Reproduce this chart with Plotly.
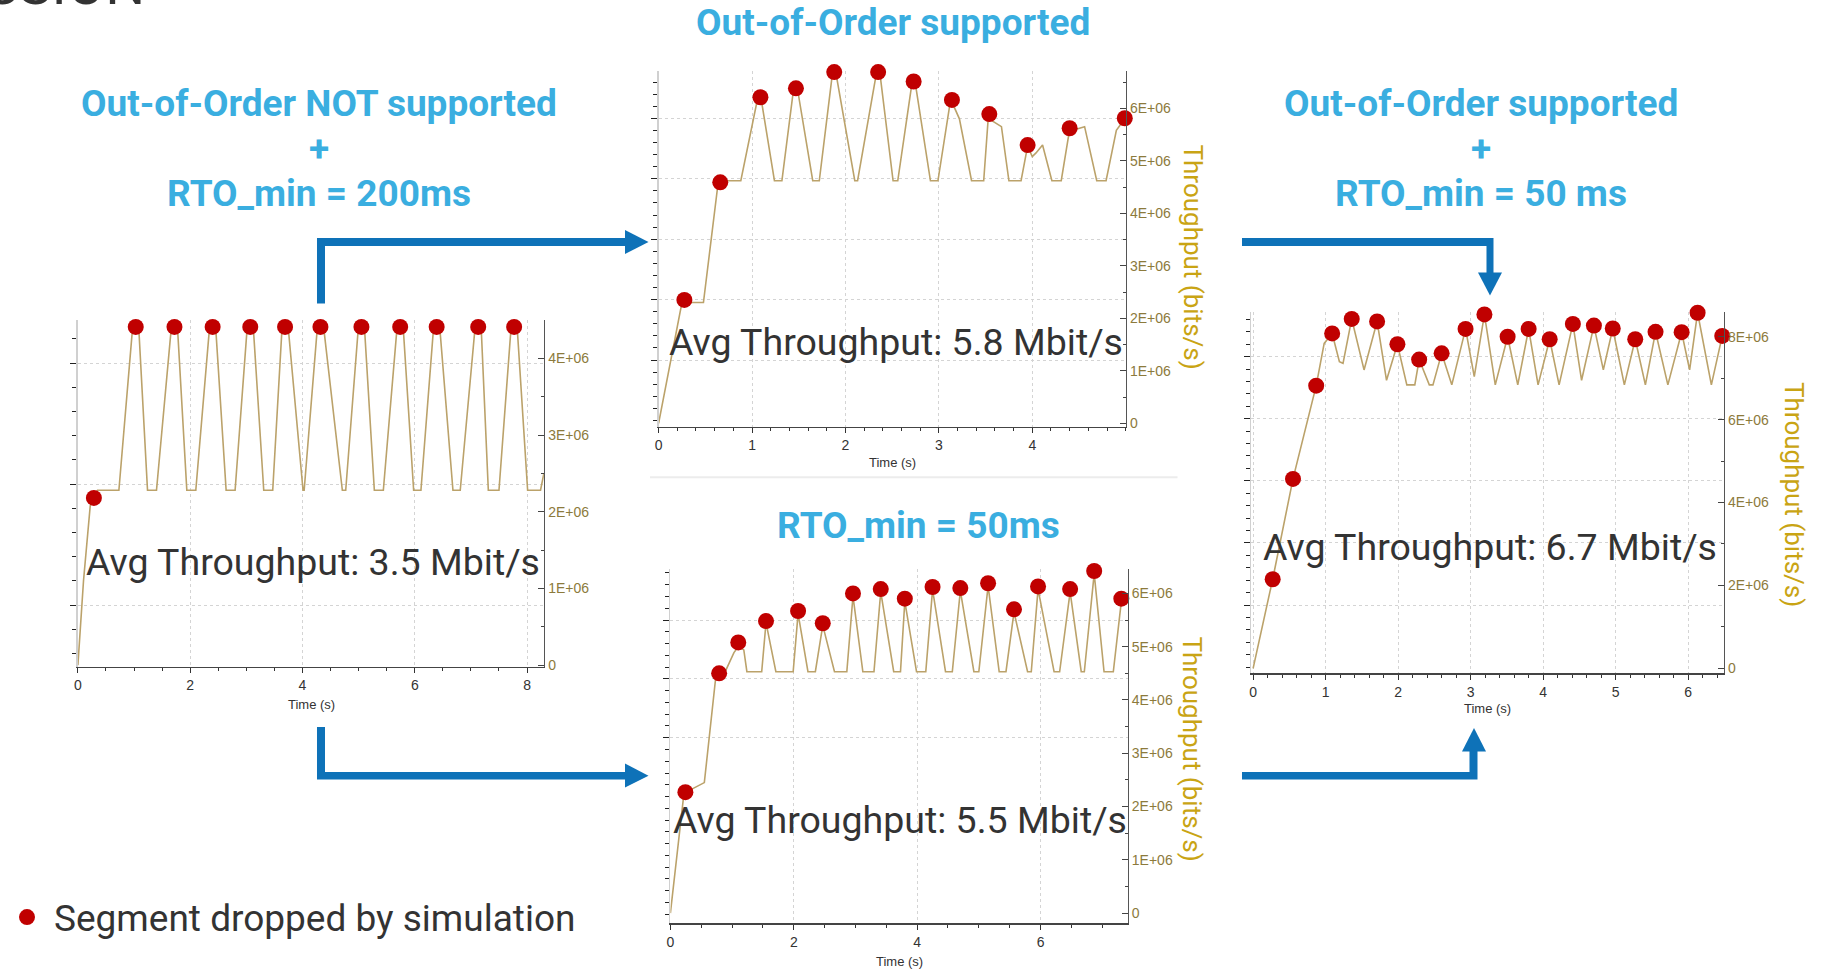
import plotly.graph_objects as go

W, H = 1828, 970
MB = 1e6

# ---------------- DATA (throughput in Mbit/s, time in s) ----------------
# Chart 1: Out-of-Order NOT supported + RTO_min = 200ms
c1_time = [0, 0.10, 0.22, 0.29, 0.35, 0.73,
           0.98, 1.08, 1.24, 1.40,
           1.67, 1.77, 1.94, 2.10,
           2.35, 2.45, 2.64, 2.80,
           3.02, 3.12, 3.31, 3.47,
           3.64, 3.74, 4.01, 4.03,
           4.27, 4.37, 4.71, 4.77,
           5.00, 5.10, 5.28, 5.44,
           5.69, 5.79, 5.98, 6.11,
           6.34, 6.44, 6.68, 6.81,
           7.08, 7.18, 7.31, 7.50,
           7.72, 7.82, 8.01, 8.24,
           8.30]
c1_tput = [0, 1.10, 2.08, 2.18, 2.28, 2.28,
           4.45, 4.45, 2.28, 2.28,
           4.45, 4.45, 2.28, 2.28,
           4.45, 4.45, 2.28, 2.28,
           4.45, 4.45, 2.28, 2.28,
           4.45, 4.45, 2.28, 2.28,
           4.45, 4.45, 2.28, 2.28,
           4.45, 4.45, 2.28, 2.28,
           4.45, 4.45, 2.28, 2.28,
           4.45, 4.45, 2.28, 2.28,
           4.45, 4.45, 2.28, 2.28,
           4.45, 4.45, 2.28, 2.28,
           2.50]
c1_drop_time = [0.285, 1.03, 1.72, 2.40, 3.07, 3.69, 4.32, 5.05, 5.74, 6.39, 7.13, 7.77]
c1_drop_tput = [2.18, 4.41, 4.41, 4.41, 4.41, 4.41, 4.41, 4.41, 4.41, 4.41, 4.41, 4.41]

# Chart 2: Out-of-Order supported
c2_time = [0, 0.25, 0.48, 0.64, 0.88,
           1.05, 1.10, 1.24, 1.32,
           1.44, 1.49, 1.65, 1.72,
           1.86, 1.90, 2.10, 2.13,
           2.33, 2.37, 2.51, 2.56,
           2.71, 2.75, 2.91, 2.99,
           3.12, 3.17, 3.22, 3.35, 3.48,
           3.53, 3.58, 3.67, 3.75, 3.88,
           3.95, 4.00, 4.04, 4.11, 4.21, 4.31,
           4.40, 4.47, 4.56, 4.69, 4.79,
           4.90, 4.99]
c2_tput = [0, 2.30, 2.30, 4.62, 4.62,
           6.10, 6.15, 4.62, 4.62,
           6.30, 6.33, 4.62, 4.62,
           6.65, 6.65, 4.62, 4.62,
           6.65, 6.65, 4.62, 4.62,
           6.45, 6.45, 4.62, 4.62,
           6.10, 6.00, 5.80, 4.62, 4.62,
           5.85, 5.75, 5.65, 4.62, 4.62,
           5.28, 5.08, 5.15, 5.30, 4.62, 4.62,
           5.60, 5.60, 5.65, 4.62, 4.62,
           5.58, 5.80]
c2_drop_time = [0.276, 0.66, 1.09, 1.47, 1.88, 2.35, 2.73, 3.14, 3.54, 3.95, 4.40, 4.99]
c2_drop_tput = [2.35, 4.59, 6.21, 6.38, 6.69, 6.69, 6.51, 6.16, 5.89, 5.30, 5.62, 5.81]

# Chart 3: RTO_min = 50ms
c3_time = [0, 0.22, 0.30, 0.55, 0.73, 0.79, 0.90, 1.03, 1.10, 1.19, 1.24, 1.48,
           1.55, 1.71, 1.99,
           2.07, 2.23, 2.35,
           2.47, 2.66, 2.86,
           2.96, 3.12, 3.30,
           3.41, 3.62, 3.73,
           3.80, 3.99, 4.14,
           4.25, 4.46, 4.57,
           4.70, 4.92, 5.00,
           5.15, 5.33, 5.44,
           5.57, 5.79, 5.85,
           5.96, 6.22, 6.31,
           6.48, 6.66, 6.71,
           6.87, 7.03, 7.18,
           7.31]
c3_tput = [0, 2.25, 2.30, 2.45, 4.37, 4.50, 4.56, 4.89, 5.00, 4.94, 4.53, 4.53,
           5.45, 4.53, 4.53,
           5.62, 4.53, 4.53,
           5.40, 4.53, 4.53,
           5.95, 4.53, 4.53,
           6.03, 4.53, 4.53,
           5.85, 4.53, 4.53,
           6.07, 4.53, 4.53,
           6.05, 4.53, 4.53,
           6.14, 4.53, 4.53,
           5.65, 4.53, 4.53,
           6.08, 4.53, 4.53,
           6.03, 4.53, 4.53,
           6.37, 4.53, 4.53,
           5.85]
c3_drop_time = [0.243, 0.79, 1.10, 1.55, 2.07, 2.47, 2.96, 3.41, 3.80, 4.25, 4.70, 5.15,
                5.57, 5.96, 6.48, 6.87, 7.31]
c3_drop_tput = [2.27, 4.50, 5.08, 5.48, 5.67, 5.44, 6.00, 6.08, 5.90, 6.12, 6.10, 6.19,
                5.70, 6.13, 6.08, 6.42, 5.90]

# Chart 4: Out-of-Order supported + RTO_min = 50 ms
c4_time = [0, 0.27, 0.55, 0.87, 0.98, 1.09, 1.19, 1.24, 1.36, 1.53, 1.71, 1.84, 1.99,
           2.12, 2.23, 2.29, 2.43, 2.48, 2.60, 2.74, 2.93, 3.05, 3.19, 3.34, 3.51,
           3.65, 3.80, 3.93, 4.09, 4.22, 4.41, 4.53, 4.70, 4.83, 4.96, 5.12, 5.27,
           5.41, 5.55, 5.72, 5.91, 6.02, 6.13, 6.32, 6.47]
c4_tput = [0, 2.15, 4.57, 6.82, 7.84, 8.08, 7.40, 7.36, 8.43, 7.20, 8.37, 6.95, 7.82,
           6.84, 6.84, 7.45, 6.84, 6.84, 7.60, 6.84, 8.19, 7.04, 8.54, 6.84, 8.00,
           6.84, 8.19, 6.84, 7.94, 6.84, 8.31, 6.95, 8.27, 7.20, 8.20, 6.84, 7.94,
           6.84, 8.12, 6.84, 8.11, 7.20, 8.58, 6.84, 8.02]
c4_drop_time = [0.27, 0.55, 0.87, 1.09, 1.36, 1.71, 1.99, 2.29, 2.60, 2.93, 3.19, 3.51,
                3.80, 4.09, 4.41, 4.70, 4.96, 5.27, 5.55, 5.91, 6.13, 6.47]
c4_drop_tput = [2.15, 4.57, 6.82, 8.08, 8.43, 8.37, 7.82, 7.45, 7.60, 8.19, 8.54, 8.00,
                8.19, 7.94, 8.31, 8.27, 8.20, 7.94, 8.12, 8.11, 8.58, 8.02]

# Tick labels
c1_ytick_vals = [0, 1, 2, 3, 4]
c2_ytick_vals = [0, 1, 2, 3, 4, 5, 6]
c3_ytick_vals = [0, 1, 2, 3, 4, 5, 6]
c4_ytick_vals = [0, 2, 4, 6, 8]
c1_xtick_vals = [0, 2, 4, 6, 8]
c2_xtick_vals = [0, 1, 2, 3, 4]
c3_xtick_vals = [0, 2, 4, 6]
c4_xtick_vals = [0, 1, 2, 3, 4, 5, 6]

avg_labels = ["Avg Throughput: 3.5 Mbit/s", "Avg Throughput: 5.8 Mbit/s",
              "Avg Throughput: 5.5 Mbit/s", "Avg Throughput: 6.7 Mbit/s"]
legend_label = "Segment dropped by simulation"


def sci(v):
    return "0" if v == 0 else "%dE+06" % v


# ---------------- LAYOUT GEOMETRY (pixels) ----------------
charts = [
    dict(t=c1_time, v=c1_tput, dt=c1_drop_time, dv=c1_drop_tput, yt=c1_ytick_vals, xt=c1_xtick_vals,
         x0=77.9, x1=543.9, yb=666.7, ytop=320.0, xr=[0, 8.30], yr=[-0.02, 4.50],
         g0=605.0, gs=121.0, gv=[0, 1, 2], xminor=0.5, yminor=0.5),
    dict(t=c2_time, v=c2_tput, dt=c2_drop_time, dv=c2_drop_tput, yt=c2_ytick_vals, xt=c2_xtick_vals,
         x0=658.6, x1=1125.7, yb=426.7, ytop=70.5, xr=[0, 5.0], yr=[-0.065, 6.72],
         g0=360.0, gs=60.4, gv=[0, 1, 2, 3, 4], xminor=0.2, yminor=0.5),
    dict(t=c3_time, v=c3_tput, dt=c3_drop_time, dv=c3_drop_tput, yt=c3_ytick_vals, xt=c3_xtick_vals,
         x0=670.4, x1=1127.5, yb=923.3, ytop=569.4, xr=[0, 7.41], yr=[-0.19, 6.45],
         g0=737.7, gs=58.85, gv=[0, 1, 2], xminor=0.5, yminor=0.5),
    dict(t=c4_time, v=c4_tput, dt=c4_drop_time, dv=c4_drop_tput, yt=c4_ytick_vals, xt=c4_xtick_vals,
         x0=1251.3, x1=1723.7, yb=673.3, ytop=311.9, xr=[-0.025, 6.49], yr=[-0.12, 8.60],
         g0=605.0, gs=62.1, gv=[0, 1, 2, 3, 4], xminor=0.2, yminor=1.0),
]

LINE_COLOR = "#bba26a"
DOT_COLOR = "#c00000"
TICK_GOLD = "#8c7a3c"
TITLE_GOLD = "#c9a414"
HEAD_BLUE = "#3aaee0"
ARROW_BLUE = "#0e72b8"
GRID = "#d4d4d4"

fig = go.Figure()
layout = {}

for i, ch in enumerate(charts):
    n = i + 1
    xa = "x%d" % n
    yg = "y%d" % (2 * i + 1)   # base axis: left, gridlines
    yd = "y%d" % (2 * i + 2)   # data axis: right, overlaying
    xkey = "xaxis" if n == 1 else "xaxis%d" % n
    ygkey = "yaxis" if (2 * i + 1) == 1 else "yaxis%d" % (2 * i + 1)
    ydkey = "yaxis%d" % (2 * i + 2)
    dom_x = [ch["x0"] / W, ch["x1"] / W]
    dom_y = [1 - ch["yb"] / H, 1 - ch["ytop"] / H]

    fig.add_trace(go.Scatter(x=[], y=[], xaxis=xa, yaxis=yg, showlegend=False, hoverinfo="skip"))
    fig.add_trace(go.Scatter(x=ch["t"], y=[v * MB for v in ch["v"]], xaxis=xa, yaxis=yd,
                             mode="lines", line=dict(color=LINE_COLOR, width=1.6),
                             showlegend=False, hoverinfo="skip"))
    fig.add_trace(go.Scatter(x=ch["dt"], y=[v * MB for v in ch["dv"]], xaxis=xa, yaxis=yd,
                             mode="markers", marker=dict(color=DOT_COLOR, size=16),
                             cliponaxis=False, name=legend_label, showlegend=(i == 0)))

    layout[xkey] = dict(domain=dom_x, range=ch["xr"], anchor=yg, showgrid=True, gridcolor=GRID,
                        griddash="dot", gridwidth=1, tickmode="array", tickvals=ch["xt"],
                        ticks="outside", ticklen=5, tickcolor="#333", showline=True,
                        linecolor="#444", linewidth=1.5, zeroline=False,
                        tickfont=dict(family="Liberation Sans", size=14, color="#333"),
                        minor=dict(dtick=ch["xminor"], tick0=0, ticks="outside", ticklen=3,
                                   tickcolor="#333", showgrid=False),
                        fixedrange=True)
    layout[ygkey] = dict(domain=dom_y, anchor=xa, side="left",
                         range=[(ch["g0"] - ch["yb"]) / ch["gs"], (ch["g0"] - ch["ytop"]) / ch["gs"]],
                         showgrid=True, gridcolor=GRID, griddash="dot", gridwidth=1,
                         tickmode="array", tickvals=ch["gv"], showticklabels=False,
                         ticks="outside", ticklen=6, tickcolor="#222", showline=True,
                         linecolor="#d0d0d0", linewidth=1.5, zeroline=False,
                         minor=dict(dtick=0.2, tick0=0, ticks="outside", ticklen=4, tickcolor="#222"),
                         fixedrange=True)
    layout[ydkey] = dict(domain=dom_y, anchor=xa, overlaying=yg, side="right",
                         range=[ch["yr"][0] * MB, ch["yr"][1] * MB], showgrid=False, zeroline=False,
                         showline=True, linecolor="#555", linewidth=1.5,
                         tickmode="array", tickvals=[v * MB for v in ch["yt"]],
                         ticktext=[sci(v) for v in ch["yt"]],
                         ticks="inside", ticklen=6, tickcolor="#444",
                         tickfont=dict(family="Liberation Sans", size=14, color=TICK_GOLD),
                         minor=dict(dtick=ch["yminor"] * MB, tick0=0, ticks="inside", ticklen=3,
                                    tickcolor="#444"),
                         fixedrange=True)


def P(x, y):
    return x / W, 1 - y / H


annotations = []


def text(x, y, s, size, color, bold=False, angle=0, xanchor="center", yanchor="middle", family="Roboto"):
    px, py = P(x, y)
    annotations.append(dict(x=px, y=py, xref="paper", yref="paper", text=("<b>%s</b>" % s) if bold else s,
                            showarrow=False, textangle=angle, xanchor=xanchor, yanchor=yanchor,
                            font=dict(family=family, size=size, color=color)))


# headings
text(893, 22, "Out-of-Order supported", 37, HEAD_BLUE, bold=True)
text(319, 104, "Out-of-Order NOT supported", 37, HEAD_BLUE, bold=True)
text(319, 148, "+", 37, HEAD_BLUE, bold=True)
text(319, 194, "RTO_min = 200ms", 37, HEAD_BLUE, bold=True)
text(1481, 104, "Out-of-Order supported", 37, HEAD_BLUE, bold=True)
text(1481, 148, "+", 37, HEAD_BLUE, bold=True)
text(1481, 194, "RTO_min = 50 ms", 37, HEAD_BLUE, bold=True)
text(919, 525, "RTO_min = 50ms", 37, HEAD_BLUE, bold=True)

# avg throughput labels
text(313, 562, avg_labels[0], 37.5, "#333333")
text(896, 342, avg_labels[1], 37.5, "#333333")
text(900, 820, avg_labels[2], 37.5, "#333333")
text(1490, 547, avg_labels[3], 37.5, "#333333")

# axis titles
for (cx, cy) in [(311, 704), (892, 462), (899, 961), (1487.5, 708)]:
    text(cx, cy, "Time (s)", 13, "#333333", family="Liberation Sans")
for (cx, cy) in [(1192, 256.5), (1192, 748.5), (1794, 494)]:
    text(cx, cy, "Throughput (bits/s)", 26, TITLE_GOLD, angle=90)

# cut-off slide title at top-left
text(147, 20, "DISCUSSION", 56, "#333333", bold=False, xanchor="right", yanchor="bottom")

# shapes: arrows + separator
shapes = []


def poly(pts, color):
    d = "M " + " L ".join("%.5f,%.5f" % P(x, y) for x, y in pts) + " Z"
    shapes.append(dict(type="path", path=d, xref="paper", yref="paper",
                       fillcolor=color, line=dict(width=0), layer="above"))


# arrow 1 (chart1 -> chart2, top)
poly([(317, 238), (626, 238), (626, 246), (325, 246), (325, 303.5), (317, 303.5)], ARROW_BLUE)
poly([(625, 230), (648.5, 242), (625, 254)], ARROW_BLUE)
# arrow 2 (chart1 -> chart3, bottom)
poly([(317, 727), (325, 727), (325, 772), (626, 772), (626, 779.5), (317, 779.5)], ARROW_BLUE)
poly([(625, 763.5), (648.5, 775.7), (625, 787.5)], ARROW_BLUE)
# arrow 3 (chart2 -> chart4)
poly([(1242, 238), (1493.5, 238), (1493.5, 273), (1486.5, 273), (1486.5, 246), (1242, 246)], ARROW_BLUE)
poly([(1478, 272.5), (1502, 272.5), (1490, 295.5)], ARROW_BLUE)
# arrow 4 (chart3 -> chart4)
poly([(1242, 772), (1469.5, 772), (1469.5, 751), (1477.5, 751), (1477.5, 779.5), (1242, 779.5)], ARROW_BLUE)
poly([(1462, 751.5), (1486, 751.5), (1474, 728)], ARROW_BLUE)

sx0, sy0 = P(650, 477.3)
sx1, sy1 = P(1177.5, 477.3)
shapes.append(dict(type="line", xref="paper", yref="paper", x0=sx0, y0=sy0, x1=sx1, y1=sy1,
                   line=dict(color="#ececec", width=2), layer="below"))

lx, ly = P(0, 917.5)
layout.update(dict(
    width=W, height=H, autosize=False,
    margin=dict(l=0, r=0, t=0, b=0, autoexpand=False),
    paper_bgcolor="white", plot_bgcolor="rgba(0,0,0,0)",
    showlegend=True,
    legend=dict(x=lx, y=ly, xanchor="left", yanchor="middle", bgcolor="rgba(0,0,0,0)",
                font=dict(family="Roboto", size=37, color="#333333"), itemwidth=44),
    annotations=annotations, shapes=shapes,
    hovermode=False,
))
fig.update_layout(**layout)

fig.write_html("out.html", config={"displayModeBar": False, "staticPlot": True},
               post_script="document.body.style.margin='0';document.body.style.overflow='hidden';")
